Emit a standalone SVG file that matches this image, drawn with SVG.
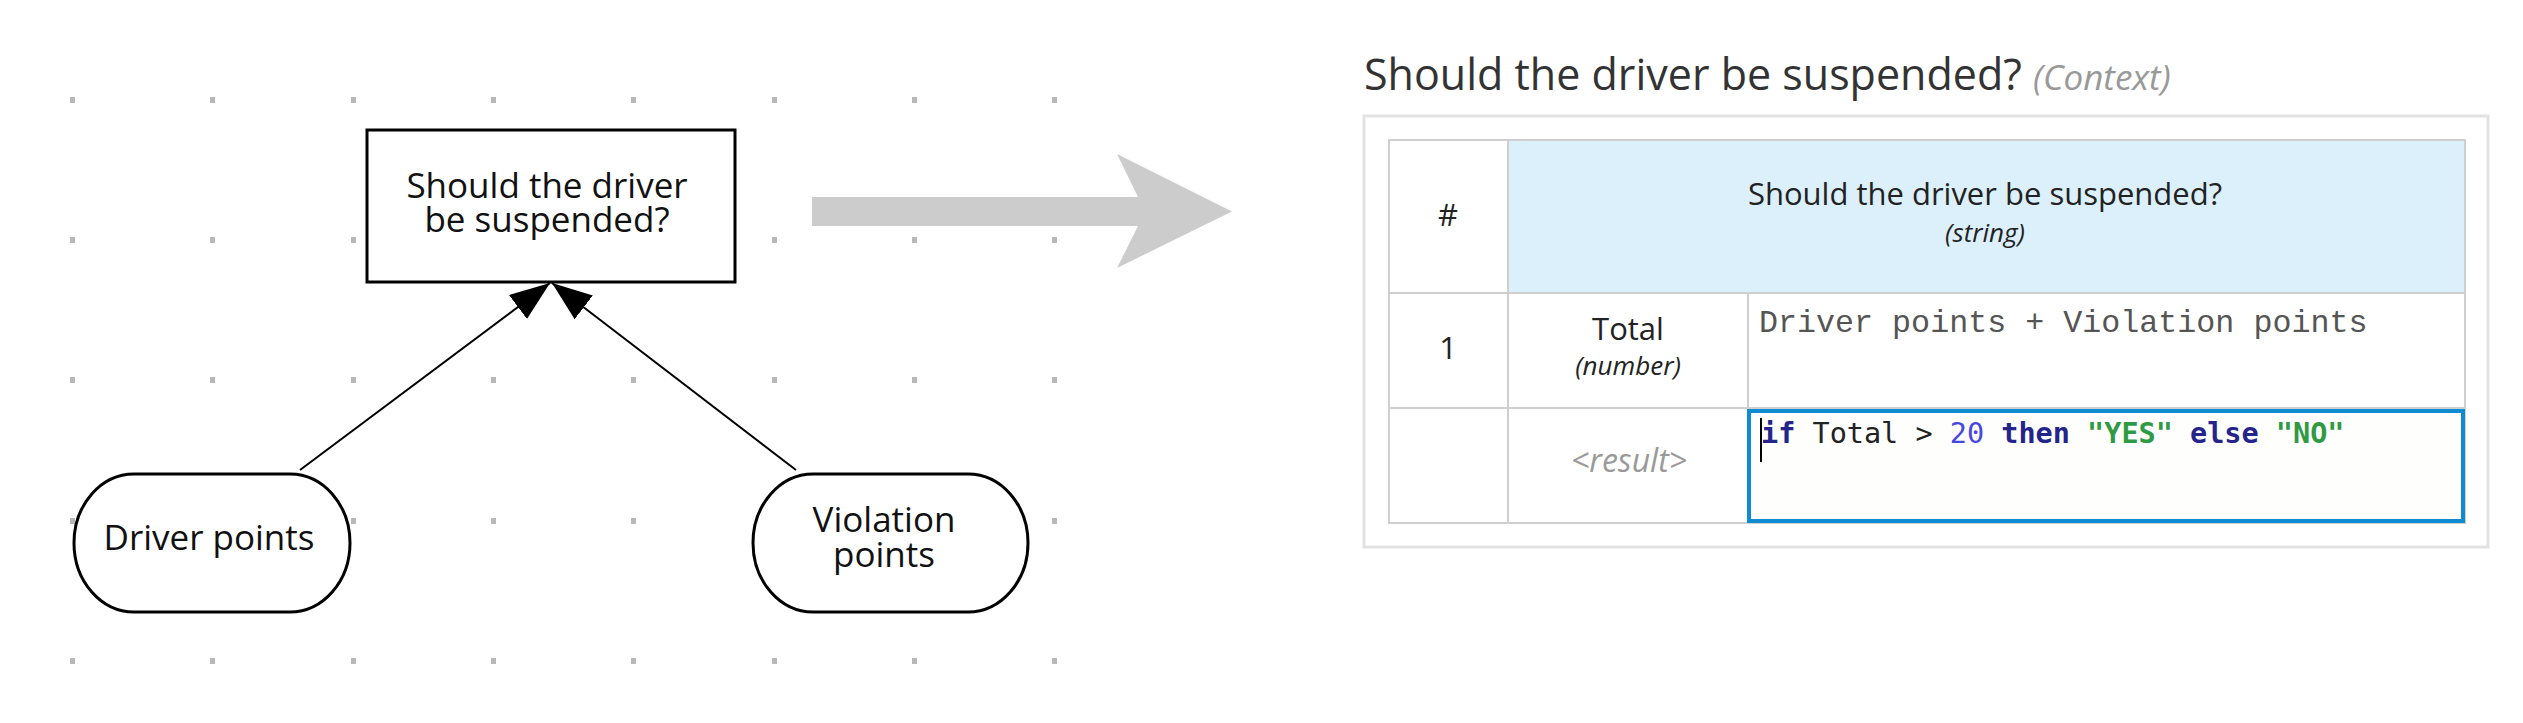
<svg xmlns="http://www.w3.org/2000/svg" width="2523" height="723" viewBox="0 0 2523 723">
  <style>
    .sans { font-family: "Open Sans", "Noto Sans", "DejaVu Sans", sans-serif; }
    .node-text { font-size: 35px; fill: #111; text-anchor: middle; }
    .shape { fill: #fff; stroke: #000; stroke-width: 3; }
    .conn { stroke: #000; stroke-width: 2; fill: none; }
    .dot { fill: #b8b8b8; }
    .grid { stroke: #cfcfcf; stroke-width: 2; fill: none; }
    .cell { font-size: 31px; fill: #222; text-anchor: middle; }
    .type { font-size: 26px; fill: #222; font-style: italic; text-anchor: middle; }
    .mono { font-family: "Liberation Mono", "Courier New", monospace; font-size: 31.7px; fill: #555; }
    .code { font-family: "DejaVu Sans Mono", monospace; font-size: 28.5px; }
    .kw { fill: #24248a; font-weight: bold; }
    .num { fill: #4646e0; }
    .str { fill: #2e9a44; font-weight: bold; }
    .plain { fill: #222; }
  </style>
  <defs>
    <marker id="arrow" markerUnits="userSpaceOnUse" markerWidth="40" markerHeight="30" refX="40" refY="15" orient="auto">
      <path d="M0,0 L40,15 L0,30 Z" fill="#000"/>
    </marker>
  </defs>
  <rect width="2523" height="723" fill="#fff"/>

  <!-- grid dots -->
  <g id="grid-dots">
    <rect class="dot" x="70" y="97" width="5" height="6"/><rect class="dot" x="210" y="97" width="5" height="6"/><rect class="dot" x="351" y="97" width="5" height="6"/><rect class="dot" x="491" y="97" width="5" height="6"/><rect class="dot" x="631" y="97" width="5" height="6"/><rect class="dot" x="772" y="97" width="5" height="6"/><rect class="dot" x="912" y="97" width="5" height="6"/><rect class="dot" x="1052" y="97" width="5" height="6"/>
    <rect class="dot" x="70" y="237" width="5" height="6"/><rect class="dot" x="210" y="237" width="5" height="6"/><rect class="dot" x="351" y="237" width="5" height="6"/><rect class="dot" x="491" y="237" width="5" height="6"/><rect class="dot" x="631" y="237" width="5" height="6"/><rect class="dot" x="772" y="237" width="5" height="6"/><rect class="dot" x="912" y="237" width="5" height="6"/><rect class="dot" x="1052" y="237" width="5" height="6"/>
    <rect class="dot" x="70" y="377" width="5" height="6"/><rect class="dot" x="210" y="377" width="5" height="6"/><rect class="dot" x="351" y="377" width="5" height="6"/><rect class="dot" x="491" y="377" width="5" height="6"/><rect class="dot" x="631" y="377" width="5" height="6"/><rect class="dot" x="772" y="377" width="5" height="6"/><rect class="dot" x="912" y="377" width="5" height="6"/><rect class="dot" x="1052" y="377" width="5" height="6"/>
    <rect class="dot" x="70" y="518" width="5" height="6"/><rect class="dot" x="210" y="518" width="5" height="6"/><rect class="dot" x="351" y="518" width="5" height="6"/><rect class="dot" x="491" y="518" width="5" height="6"/><rect class="dot" x="631" y="518" width="5" height="6"/><rect class="dot" x="772" y="518" width="5" height="6"/><rect class="dot" x="912" y="518" width="5" height="6"/><rect class="dot" x="1052" y="518" width="5" height="6"/>
    <rect class="dot" x="70" y="658" width="5" height="6"/><rect class="dot" x="210" y="658" width="5" height="6"/><rect class="dot" x="351" y="658" width="5" height="6"/><rect class="dot" x="491" y="658" width="5" height="6"/><rect class="dot" x="631" y="658" width="5" height="6"/><rect class="dot" x="772" y="658" width="5" height="6"/><rect class="dot" x="912" y="658" width="5" height="6"/><rect class="dot" x="1052" y="658" width="5" height="6"/>
  </g>

  <!-- connectors -->
  <g id="connectors">
    <line class="conn" x1="300" y1="470" x2="550" y2="283" marker-end="url(#arrow)"/>
    <line class="conn" x1="796" y1="470" x2="552" y2="283" marker-end="url(#arrow)"/>
  </g>

  <g id="node-decision">
    <rect class="shape" x="367" y="130" width="368" height="152"/>
    <text class="sans node-text" x="547" y="198">Should the driver</text>
    <text class="sans node-text" x="547" y="232">be suspended?</text>
  </g>

  <g id="node-driver-points">
    <rect class="shape" x="74" y="474" width="276" height="138" rx="60" ry="69"/>
    <text class="sans node-text" x="209" y="550">Driver points</text>
  </g>

  <g id="node-violation-points">
    <rect class="shape" x="753" y="474" width="275" height="138" rx="60" ry="69"/>
    <text class="sans node-text" x="884" y="532">Violation</text>
    <text class="sans node-text" x="884" y="567">points</text>
  </g>

  <!-- big transition arrow -->
  <g id="transition-arrow">
    <polygon points="812,197 1138,197 1117,154 1232,211.5 1117,268 1138,226 812,226" fill="#cccccc"/>
  </g>

  <!-- decision table -->
  <g id="decision-table">
    <text class="sans" x="1364" y="90" font-size="43" fill="#333">Should the driver be suspended? <tspan font-size="35" font-style="italic" fill="#999">(Context)</tspan></text>
    <rect x="1364" y="116" width="1124" height="431" fill="#fff" stroke="#e2e2e2" stroke-width="3"/>
    <rect x="1508" y="140" width="957" height="153" fill="#dcf0fc"/>
    <rect class="grid" x="1389" y="140" width="1076" height="383"/>
    <line class="grid" x1="1508" y1="140" x2="1508" y2="523"/>
    <line class="grid" x1="1748" y1="293" x2="1748" y2="523"/>
    <line class="grid" x1="1389" y1="293" x2="2465" y2="293"/>
    <line class="grid" x1="1389" y1="408" x2="2465" y2="408"/>

    <text class="sans cell" x="1448" y="226">#</text>
    <text class="sans cell" x="1985" y="205" font-size="31.8">Should the driver be suspended?</text>
    <text class="sans type" x="1985" y="242">(string)</text>

    <text class="sans cell" x="1448" y="359">1</text>
    <text class="sans cell" x="1628" y="340">Total</text>
    <text class="sans type" x="1628" y="375">(number)</text>
    <text class="mono" x="1759" y="332">Driver points + Violation points</text>

    <text class="sans" x="1629" y="472" font-size="32" font-style="italic" fill="#999" text-anchor="middle">&lt;result&gt;</text>
    <rect x="1749" y="411" width="714" height="110" fill="#fefefc" stroke="#0f8bd2" stroke-width="4"/>
    <text class="code" x="1761" y="443" xml:space="preserve"><tspan class="kw">if</tspan><tspan class="plain"> Total &gt; </tspan><tspan class="num">20</tspan><tspan class="plain"> </tspan><tspan class="kw">then</tspan><tspan class="plain"> </tspan><tspan class="str">"YES"</tspan><tspan class="plain"> </tspan><tspan class="kw">else</tspan><tspan class="plain"> </tspan><tspan class="str">"NO"</tspan></text>
    <line x1="1761" y1="418" x2="1761" y2="462" stroke="#000" stroke-width="2"/>
  </g>
</svg>
